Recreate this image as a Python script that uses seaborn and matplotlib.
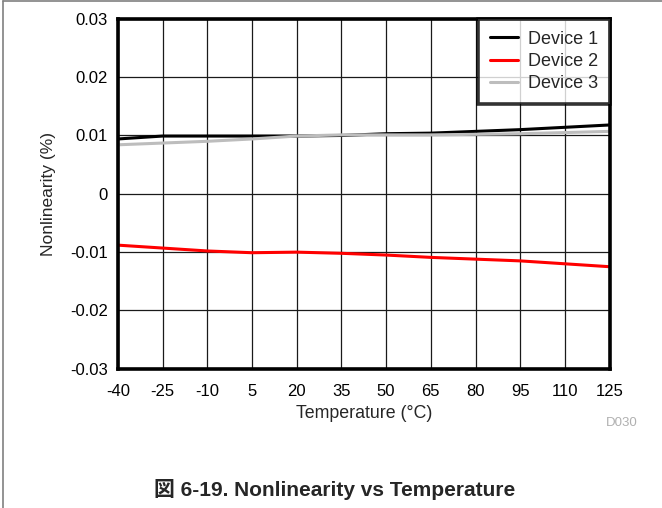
import numpy as np
import pandas as pd
import matplotlib
matplotlib.use("Agg")
import matplotlib.pyplot as plt
from matplotlib.lines import Line2D
import seaborn as sns

temperature = [-40, -25, -10, 5, 20, 35, 50, 65, 80, 95, 110, 125]
device1 = [0.0094, 0.0099, 0.0099, 0.0099, 0.0099, 0.0100, 0.0103, 0.0104, 0.0107, 0.0110, 0.0114, 0.0118]
device2 = [-0.0088, -0.0093, -0.0098, -0.0101, -0.0100, -0.0102, -0.0105, -0.0109, -0.0112, -0.0115, -0.0120, -0.0125]
device3 = [0.0084, 0.0087, 0.0090, 0.0094, 0.0099, 0.0101, 0.0101, 0.0101, 0.0102, 0.0103, 0.0105, 0.0107]
series_names = ["Device 1", "Device 2", "Device 3"]
colors = ["#000000", "#ff0000", "#bdbdbd"]
y_ticks = [-0.03, -0.02, -0.01, 0, 0.01, 0.02, 0.03]
y_tick_labels = ["-0.03", "-0.02", "-0.01", "0", "0.01", "0.02", "0.03"]

df = pd.DataFrame({
    "Temperature": temperature * 3,
    "Nonlinearity": device1 + device2 + device3,
    "Device": sum([[n] * len(temperature) for n in series_names], []),
})

sns.set_style("white")
plt.rcParams["font.family"] = ["Liberation Sans", "Noto Sans CJK JP", "DejaVu Sans"]

fig = plt.figure(figsize=(6.62, 5.08), dpi=100)
ax = fig.add_axes([0.178, 0.274, 0.743, 0.689])

sns.lineplot(data=df, x="Temperature", y="Nonlinearity", hue="Device",
             palette=dict(zip(series_names, colors)), linewidth=2.2,
             ax=ax, legend=True)

ax.set_xlim(-40, 125)
ax.set_ylim(-0.03, 0.03)
ax.set_xticks(temperature)
ax.set_xticklabels([str(t) for t in temperature])
ax.set_yticks(y_ticks)
ax.set_yticklabels(y_tick_labels)
ax.grid(True, color="#1a1a1a", linewidth=0.9)
ax.set_axisbelow(True)
ax.tick_params(axis="both", length=0, labelsize=12, colors="#000000")
ax.tick_params(axis="x", pad=11)
ax.tick_params(axis="y", pad=7)
for s in ax.spines.values():
    s.set_visible(True)
    s.set_color("#000000")
    s.set_linewidth(2.6)

ax.set_xlabel("Temperature (°C)", fontsize=12.8, labelpad=4)
ax.set_ylabel("Nonlinearity (%)", fontsize=12.5, labelpad=10.5)

leg = ax.legend(loc="upper right", fontsize=13, frameon=True, fancybox=False,
                borderaxespad=0, handlelength=1.55, handletextpad=0.55,
                borderpad=0.65, labelspacing=0.3)
leg.get_frame().set_edgecolor("#000000")
leg.get_frame().set_linewidth(2.6)
for h in leg.get_lines():
    h.set_linewidth(2.2)

fig.text(638 / 662, 1 - 423 / 508, "D030", fontsize=9.5, color="#b0b0b0",
         ha="right", va="center")
fig.text(335 / 662, 1 - 490 / 508, "図 6-19. Nonlinearity vs Temperature",
         fontsize=15, fontweight="bold", ha="center", va="center")

# page frame on the left and top
fig.add_artist(Line2D([0.005, 0.005], [0, 0.998], transform=fig.transFigure,
                      color="#808080", linewidth=1.2))
fig.add_artist(Line2D([0.005, 1.0], [0.998, 0.998], transform=fig.transFigure,
                      color="#808080", linewidth=1.2))

fig.savefig("out.png", dpi=100)
